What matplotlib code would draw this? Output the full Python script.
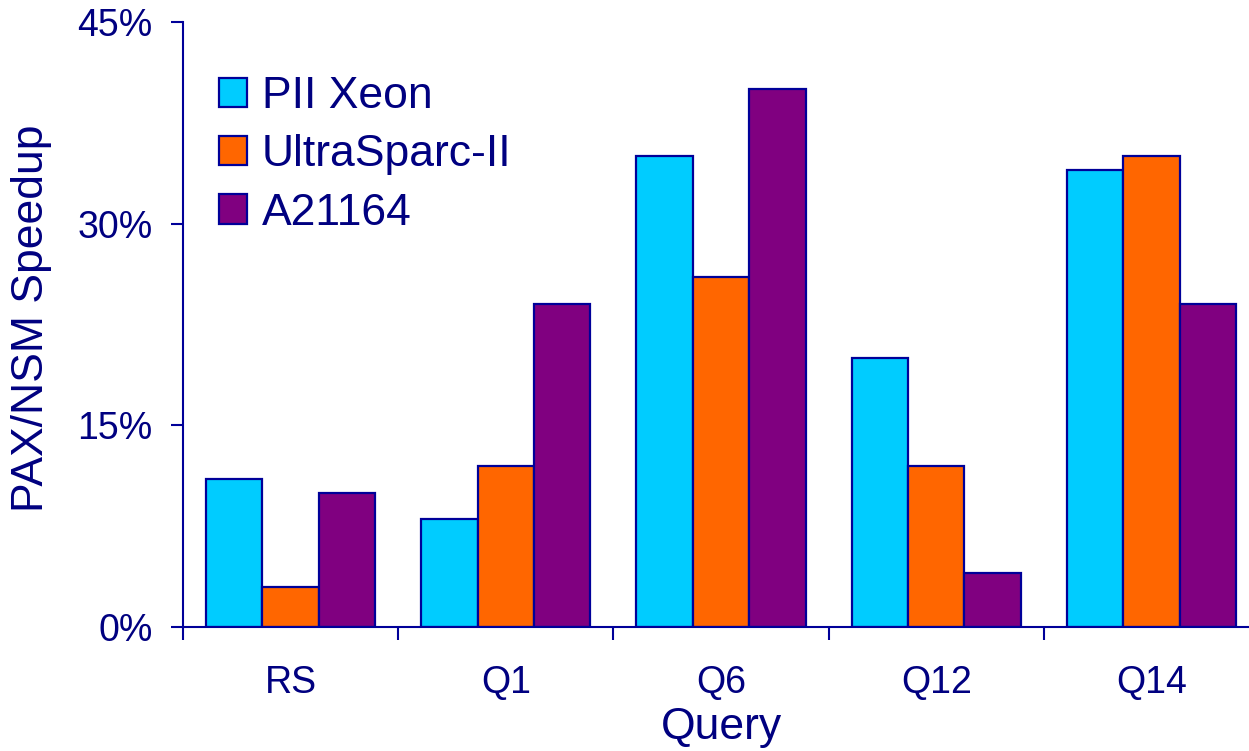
import matplotlib
matplotlib.use("Agg")
import matplotlib.pyplot as plt
from matplotlib.ticker import FixedLocator, FuncFormatter
import numpy as np

queries = ["RS", "Q1", "Q6", "Q12", "Q14"]
series_names = ["PII Xeon", "UltraSparc-II", "A21164"]
pii_xeon = [11, 8, 35, 20, 34]
ultrasparc = [3, 12, 26, 12, 35]
a21164 = [10, 24, 40, 4, 24]
y_ticks = [0, 15, 30, 45]

colors = ["#00CCFF", "#FF6600", "#800080"]
edge = "#000099"
text_color = "#000080"

plt.rcParams["font.family"] = ["Liberation Sans", "DejaVu Sans"]

fig = plt.figure(figsize=(12.49, 7.51), dpi=100)
W, H = 1249, 751
ax = fig.add_axes([183 / W, 1 - 627 / H, (1259 - 183) / W, (627 - 22) / H])

x = np.arange(len(queries))
width = 0.262
for i, (vals, name, c) in enumerate(zip([pii_xeon, ultrasparc, a21164], series_names, colors)):
    ax.bar(x + (i - 1) * width, vals, width, color=c, edgecolor=edge,
           linewidth=1.6, label=name, zorder=3)

ax.set_xlim(-0.5, len(queries) - 0.5)
ax.set_ylim(0, 45)

for s in ["top", "right"]:
    ax.spines[s].set_visible(False)
for s in ["left", "bottom"]:
    ax.spines[s].set_color(edge)
    ax.spines[s].set_linewidth(1.5)
ax.spines["bottom"].set_zorder(4)

ax.yaxis.set_major_locator(FixedLocator(y_ticks))
ax.yaxis.set_major_formatter(FuncFormatter(lambda v, p: f"{int(v)}%"))
ax.tick_params(axis="y", direction="out", length=9, width=1.5, color=edge,
               labelsize=27, labelcolor=text_color, pad=13)

ax.set_xticks(x)
ax.set_xticklabels(queries)
ax.set_xticks(np.arange(len(queries) + 1) - 0.5, minor=True)
ax.tick_params(axis="x", which="major", length=0, labelsize=27,
               labelcolor=text_color, pad=27.5)
ax.tick_params(axis="x", which="minor", direction="out", length=9, width=1.5,
               color=edge)

ax.set_xlabel("Query", fontsize=32, color=text_color)
ax.xaxis.set_label_coords(0.5, -0.132)
ax.set_ylabel("PAX/NSM Speedup", fontsize=32, color=text_color)
ax.yaxis.set_label_coords(-0.122, 0.51)

leg = ax.legend(loc="upper left", bbox_to_anchor=(219 / W, 1 - 76 / H),
                bbox_transform=fig.transFigure, frameon=False, fontsize=32,
                handlelength=0.63, handleheight=0.63, handletextpad=0.34,
                labelspacing=0.39, borderaxespad=0, borderpad=0)
for t in leg.get_texts():
    t.set_color(text_color)

fig.savefig("out.png", dpi=100)
